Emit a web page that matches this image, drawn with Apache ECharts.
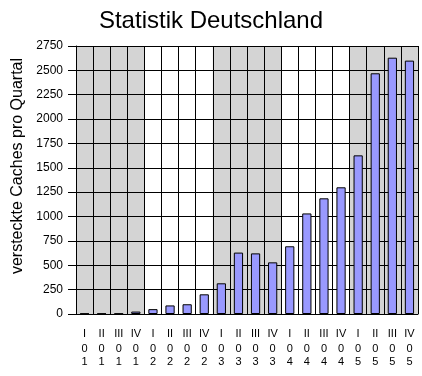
<!DOCTYPE html>
<html>
<head>
<meta charset="utf-8">
<script src="https://cdn.jsdelivr.net/npm/echarts@6/dist/echarts.min.js"></script>
<style>
    html, body { margin: 0; padding: 0; background: #fff; }
    #main { width: 422px; height: 376px; }
</style>
</head>
<body>
<div id="main"></div>
<script>
// Daten: versteckte Caches pro Quartal, 2001 - 2005
// (nicht "caches" nennen, das ist schon window.caches)
var quarters = ['I', 'II', 'III', 'IV'];
var years = ['01', '02', '03', '04', '05'];
var cacheCounts = [5, 5, 5, 25, 50, 88, 100, 202, 315, 630, 622, 530, 695, 1032, 1187, 1300, 1628, 2470, 2630, 2600];
var yTicks = [0, 2750, 250];

var categories = [];
for (var i = 0; i < years.length; i++) {
    for (var j = 0; j < quarters.length; j++) {
        categories.push(quarters[j] + '\n' + years[i].charAt(0) + '\n' + years[i].charAt(1));
    }
}

var font = "'Liberation Sans', Arial, sans-serif";
var myChart = echarts.init(document.getElementById('main'));

option = {
    animation: false,
    title: {
        text: 'Statistik Deutschland',
        left: 'center',
        top: 4,
        textStyle: { fontFamily: font, fontSize: 24, fontWeight: 'normal', color: '#000' }
    },
    graphic: [{
        type: 'text',
        x: 18,
        y: 166,
        rotation: Math.PI / 2,
        style: {
            text: 'versteckte Caches pro Quartal',
            font: '16px ' + font,
            fill: '#000',
            align: 'center',
            verticalAlign: 'middle'
        }
    }],
    grid: {
        left: 76,
        right: 4,
        top: 46,
        bottom: 62
    },
    xAxis: [{
        type: 'category',
        data: categories,
        z: 1,
        axisLine: { lineStyle: { color: '#000', width: 1 } },
        axisTick: { length: 5, lineStyle: { color: '#000' } },
        splitLine: { show: true, lineStyle: { color: '#000', width: 1 } },
        axisLabel: {
            interval: 0,
            margin: 11,
            color: '#000',
            fontFamily: font,
            fontSize: 11,
            formatter: function (v) {
                var p = v.split('\n');
                return '{q|' + p[0] + '}\n{d|' + p[1] + '}\n{d|' + p[2] + '}';
            },
            rich: {
                q: { lineHeight: 17, fontSize: 11, fontFamily: font, color: '#000' },
                d: { lineHeight: 13, fontSize: 11, fontFamily: font, color: '#000' }
            }
        }
    }, {
        // nur fuer die grauen Jahresstreifen
        type: 'category',
        data: years,
        position: 'bottom',
        z: 0,
        axisLine: { show: false },
        axisTick: { show: false },
        axisLabel: { show: false },
        splitLine: { show: false },
        splitArea: { show: true, areaStyle: { color: ['#d4d4d4', '#ffffff'] } }
    }],
    yAxis: {
        type: 'value',
        min: yTicks[0],
        max: yTicks[1],
        interval: yTicks[2],
        z: 1,
        axisLine: { show: true, lineStyle: { color: '#000', width: 1 } },
        axisTick: { show: true, length: 8, lineStyle: { color: '#000' } },
        splitLine: { show: true, lineStyle: { color: '#000', width: 1 } },
        axisLabel: {
            margin: 13, color: '#000', fontFamily: font, fontSize: 12,
            formatter: function (v) { return String(v); }
        }
    },
    series: [{
        type: 'bar',
        data: cacheCounts,
        barWidth: '54%',
        z: 3,
        itemStyle: { color: '#9999ff', borderColor: '#000', borderWidth: 1 }
    }]
};
myChart.setOption(option, true);
</script>
</body>
</html>
